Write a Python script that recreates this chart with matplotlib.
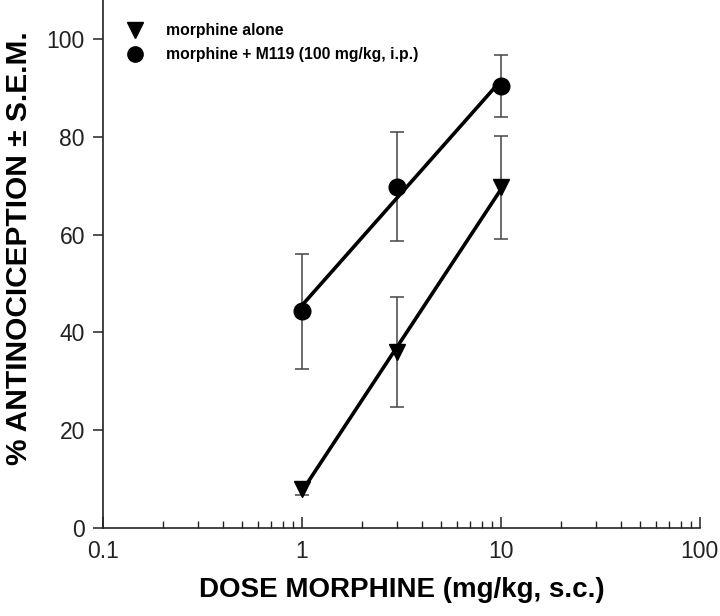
# Морфин: доза-эффект, с M119 и без

import matplotlib.pyplot as plt
import numpy as np

plt.rcParams['font.family'] = ['Liberation Sans', 'DejaVu Sans']

dose = np.array([1, 3, 10])

alone_mean = np.array([8.0, 36.0, 69.7])
alone_sem = np.array([1.3, 11.2, 10.5])

m119_mean = np.array([44.3, 69.8, 90.4])
m119_sem = np.array([11.7, 11.2, 6.4])

labels = ['morphine alone', 'morphine + M119 (100 mg/kg, i.p.)']


def fit_line(x, y):
    """Линейная регрессия по log10(dose)."""
    k, b = np.polyfit(np.log10(x), y, 1)
    xs = np.array([x[0], x[-1]])
    return xs, k * np.log10(xs) + b


fig = plt.figure(figsize=(7.2, 6.16), dpi=100)
ax = fig.add_axes([0.143, 0.143, 0.829, 0.857])

for mean, sem, mk, lab in [(alone_mean, alone_sem, 'v', labels[0]),
                           (m119_mean, m119_sem, 'o', labels[1])]:
    ax.errorbar(dose, mean, yerr=sem, fmt='none', ecolor='#444444',
                elinewidth=1.1, capsize=4.7, capthick=1.1, zorder=2)
    xs, ys = fit_line(dose, mean)
    ax.plot(xs, ys, color='black', lw=2.6, zorder=3)
    ax.plot(dose, mean, mk, color='black', ms=12, zorder=4)
    ax.plot([], [], mk, color='black', ms=11, label=lab)

ax.set_xscale('log')
ax.set_xlim(0.1, 100)
ax.set_ylim(0, 108)
ax.set_yticks([0, 20, 40, 60, 80, 100])
ax.set_xticks([0.1, 1, 10, 100])
ax.set_xticklabels(['0.1', '1', '10', '100'])

for s in ['top', 'right']:
    ax.spines[s].set_visible(False)
for s in ['left', 'bottom']:
    ax.spines[s].set_linewidth(1.2)
    ax.spines[s].set_color('#222222')

ax.tick_params(axis='y', direction='out', length=7, width=1.1,
               labelsize=16.5, pad=6, colors='#222222')
ax.tick_params(axis='x', which='major', direction='in', length=8, width=1.1,
               labelsize=16.5, pad=9, colors='#222222')
ax.tick_params(axis='x', which='minor', direction='in', length=5, width=1.0,
               colors='#222222')

ax.set_xlabel('DOSE MORPHINE (mg/kg, s.c.)', fontsize=20, fontweight='bold',
              labelpad=10)
ax.set_ylabel('% ANTINOCICEPTION \u00b1 S.E.M.', fontsize=21.5,
              fontweight='bold')
ax.yaxis.set_label_coords(-0.118, 0.53)

leg = ax.legend(loc='upper left', bbox_to_anchor=(0.0, 0.986), frameon=False,
                prop={'size': 11.3, 'weight': 'bold'}, handletextpad=1.0,
                labelspacing=0.55, borderaxespad=0.62)

fig.savefig('out.png', dpi=100)
